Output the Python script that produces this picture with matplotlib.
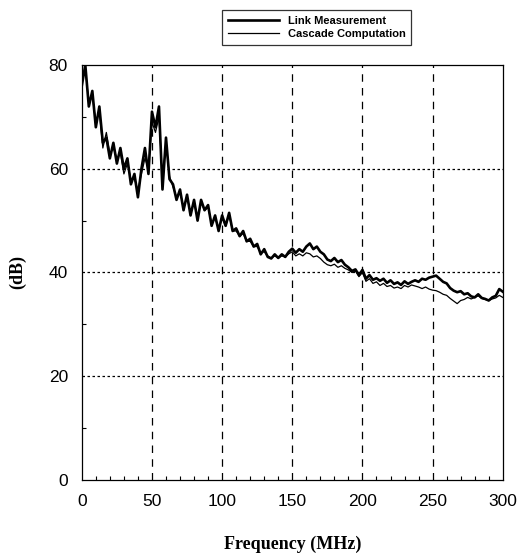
import numpy as np
import matplotlib
matplotlib.use("Agg")
import matplotlib.pyplot as plt
from matplotlib.ticker import MultipleLocator

freq = np.arange(0, 300.01, 2.5)

link = [76, 80, 72, 75, 68, 72, 65, 66, 62, 65,
        61, 64, 60, 62, 57, 59, 54.5, 60, 64, 59,
        71, 68, 72, 56, 66, 58, 57, 54, 56, 52,
        55, 51, 54, 50, 54, 52, 53, 49, 51, 48,
        51, 49, 51.5, 48, 48.5, 47, 48, 46, 46.5, 45,
        45.5, 43.5, 44.5, 43, 42.7, 43.5, 42.8, 43.5, 43, 44,
        44.6, 43.8, 44.5, 44, 45, 45.6, 44.5, 45, 44, 43.5,
        42.5, 42.2, 42.8, 42, 42.4, 41.5, 41, 40.3, 40.6, 39.5,
        40.5, 38.8, 39.5, 38.6, 38.9, 38.4, 38.8, 38, 38.5, 37.8,
        38.1, 37.6, 38.3, 37.8, 38.2, 38.5, 38.2, 38.8, 38.6, 39,
        39.2, 39.4, 38.8, 38.2, 37.9, 37, 36.5, 36.2, 36.4, 35.8,
        36, 35.4, 35.2, 35.8, 35.1, 34.9, 34.6, 35.2, 35.5, 36.8,
        36.3]

cascade = [77, 79, 73, 74, 69, 71, 64, 67, 63, 64,
           62, 63, 59, 61, 58, 58, 56, 59, 62, 60,
           69, 67, 70, 58, 65, 58.5, 56.5, 54.5, 55.5, 52.5,
           54.5, 51.5, 53.5, 50.5, 53.5, 52, 52.5, 49.5, 50.5, 48.5,
           50.5, 49, 51, 48, 48, 47, 47.5, 46, 46, 45,
           45, 43.8, 44, 43.2, 42.8, 43.2, 42.8, 43.2, 43, 43.6,
           44, 43.2, 43.6, 43.2, 43.8, 43.6, 43, 43.2, 42.7, 42,
           41.5, 41.3, 41.6, 41, 41.3, 40.8, 40.5, 40, 40.3, 39.2,
           40, 38.3, 38.8, 37.9, 38.2, 37.5, 37.9, 37.3, 37.5, 37,
           37.2, 36.9, 37.5, 37.2, 37.6, 37.4, 37.2, 36.9, 37.2, 36.8,
           36.6, 36.5, 36.2, 35.8, 35.6, 35, 34.5, 34, 34.6, 34.8,
           35.2, 34.9, 35.2, 35.5, 35, 34.8, 34.6, 34.9, 35.1, 35.6,
           35.2]

xticks = [0, 50, 100, 150, 200, 250, 300]
yticks = [0, 20, 40, 60, 80]

sans = ["Liberation Sans", "DejaVu Sans"]
serif = ["Liberation Serif", "DejaVu Serif"]

fig = plt.figure(figsize=(5.21, 5.58), dpi=100)
ax = fig.add_axes([0.157, 0.1398, 0.808, 0.7437])

l1, = ax.plot(freq, link, color="black", lw=1.9, label="Link Measurement")
l2, = ax.plot(freq, cascade, color="black", lw=0.9, label="Cascade Computation")

ax.set_xlim(0, 300)
ax.set_ylim(0, 80)
ax.set_xticks(xticks)
ax.set_yticks(yticks)
ax.xaxis.set_minor_locator(MultipleLocator(10))
ax.yaxis.set_minor_locator(MultipleLocator(10))
ax.tick_params(which="both", direction="in", top=False, right=False)
ax.tick_params(which="major", length=0, pad=10, labelsize=12.5)
ax.tick_params(which="minor", length=3, width=0.8)
for lab in ax.get_xticklabels() + ax.get_yticklabels():
    lab.set_family(sans)

for x in xticks[1:-1]:
    ax.axvline(x, color="black", lw=0.9, ls=(0, (6, 5)), zorder=0)
for y in yticks[1:-1]:
    ax.axhline(y, color="black", lw=0.9, ls=(0, (2, 2)), zorder=0)

for s in ax.spines.values():
    s.set_linewidth(0.9)

ax.set_xlabel("Frequency (MHz)", family=serif, fontweight="bold", fontsize=13, labelpad=19)
ax.set_ylabel("(dB)", family=serif, fontweight="bold", fontsize=13, labelpad=16)

leg = fig.legend(handles=[l1, l2], loc="center",
                 bbox_to_anchor=(228 / 521, 1 - 50 / 558, 177 / 521, 45 / 558),
                 prop={"family": sans, "weight": "bold", "size": 8},
                 frameon=True, fancybox=False, edgecolor="black",
                 handlelength=4.6, handletextpad=0.8, borderpad=0.5,
                 labelspacing=0.3)
leg.get_frame().set_linewidth(0.9)

fig.savefig("out.png", dpi=100)
